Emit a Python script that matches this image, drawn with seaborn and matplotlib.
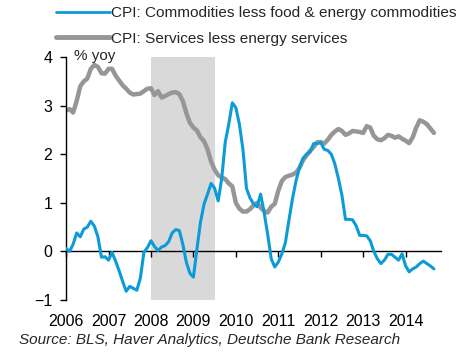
import numpy as np
import pandas as pd
import seaborn as sns
import matplotlib
matplotlib.use("Agg")
import matplotlib.pyplot as plt

# monthly data, Jan 2006 .. Sep 2014 (% yoy)
start_month = "2006-01"
core_goods = [0.06, 0.00, 0.15, 0.38, 0.30, 0.46, 0.50, 0.62, 0.52, 0.30, -0.12, -0.11,
              -0.18, -0.02, -0.20, -0.40, -0.62, -0.82, -0.72, -0.76, -0.80, -0.55, -0.02, 0.08,
              0.22, 0.10, 0.02, 0.09, 0.12, 0.20, 0.38, 0.45, 0.43, 0.15, -0.22, -0.45,
              -0.53, 0.05, 0.60, 0.97, 1.18, 1.40, 1.30, 1.04, 1.50, 2.25, 2.62, 3.06,
              2.96, 2.62, 2.10, 1.30, 1.10, 0.98, 0.92, 1.18, 0.80, 0.35, -0.15, -0.32,
              -0.22, -0.05, 0.18, 0.64, 1.08, 1.45, 1.73, 1.92, 2.00, 2.05, 2.22, 2.22,
              2.24, 2.10, 2.08, 2.00, 1.80, 1.50, 1.15, 0.66, 0.66, 0.65, 0.53, 0.33,
              0.33, 0.32, 0.22, 0.00, -0.15, -0.25, -0.18, -0.06, -0.06, -0.12, -0.18, -0.05,
              -0.30, -0.42, -0.36, -0.32, -0.25, -0.20, -0.25, -0.30, -0.36]
core_services = [2.90, 2.93, 2.86, 3.10, 3.40, 3.50, 3.56, 3.76, 3.84, 3.80, 3.67, 3.66,
                 3.76, 3.76, 3.62, 3.52, 3.42, 3.35, 3.27, 3.23, 3.24, 3.25, 3.30, 3.35,
                 3.36, 3.22, 3.30, 3.17, 3.20, 3.24, 3.27, 3.28, 3.24, 3.10, 2.85, 2.65,
                 2.55, 2.49, 2.35, 2.27, 2.10, 1.85, 1.68, 1.57, 1.52, 1.49, 1.40, 1.34,
                 1.00, 0.88, 0.82, 0.82, 0.87, 0.95, 1.00, 0.90, 0.83, 0.80, 0.92, 0.98,
                 1.25, 1.45, 1.53, 1.56, 1.58, 1.62, 1.72, 1.88, 1.98, 2.07, 2.15, 2.25,
                 2.25, 2.22, 2.30, 2.40, 2.47, 2.52, 2.48, 2.40, 2.43, 2.48, 2.47, 2.46,
                 2.44, 2.58, 2.55, 2.38, 2.31, 2.29, 2.33, 2.40, 2.38, 2.34, 2.37, 2.32,
                 2.28, 2.23, 2.35, 2.55, 2.70, 2.67, 2.62, 2.53, 2.44]
labels = ["CPI: Commodities less food & energy commodities",
          "CPI: Services less energy services"]
year_ticks = list(range(2006, 2015))
recession = (2008.0, 2009.5)

months = pd.period_range(start_month, periods=len(core_goods), freq="M")
t = months.year + (months.month - 1) / 12.0
df = pd.concat([
    pd.DataFrame({"t": t, "v": core_goods, "series": labels[0]}),
    pd.DataFrame({"t": t, "v": core_services, "series": labels[1]}),
])

sns.set_style("ticks")
plt.rcParams["font.family"] = ["Liberation Sans", "DejaVu Sans"]

blue = "#0b9bd9"
grey = "#969696"

fig = plt.figure(figsize=(4.72, 3.55), dpi=100)
ax = fig.add_axes([0.140, 0.155, 0.794, 0.684])

ax.axvspan(*recession, color="#d9d9d9", lw=0, zorder=0)
sns.lineplot(data=df[df.series == labels[1]], x="t", y="v", color=grey, lw=3.2, ax=ax,
             label=labels[1], zorder=2)
sns.lineplot(data=df[df.series == labels[0]], x="t", y="v", color=blue, lw=2.2, ax=ax,
             label=labels[0], zorder=3)

ax.set_xlim(2006, 2014.83)
ax.set_ylim(-1, 4)
ax.set_yticks([-1, 0, 1, 2, 3, 4])
ax.set_xticks(year_ticks)
ax.set_xticklabels([str(y) for y in year_ticks])
ax.set_xlabel("")
ax.set_ylabel("")

for s in ["top", "right"]:
    ax.spines[s].set_visible(False)
ax.spines["bottom"].set_position(("data", 0))
for s in ["left", "bottom"]:
    ax.spines[s].set_color("black")
    ax.spines[s].set_linewidth(1.0)
ax.tick_params(axis="both", direction="out", length=4, width=1, color="black",
               labelsize=11.5, labelcolor="black")
ax.tick_params(axis="x", pad=41)
ax.tick_params(axis="y", pad=6)

ax.text(0.02, 0.975, "% yoy", transform=ax.transAxes, fontsize=11, va="bottom", ha="left")

h, l = ax.get_legend_handles_labels()
leg = fig.legend(h[::-1], l[::-1], loc="upper left", bbox_to_anchor=(0.105, 1.0),
                 frameon=False, fontsize=11.1, handlelength=3.5, handletextpad=0.1,
                 labelspacing=0.75, borderaxespad=0)
leg.get_lines()[0].set_linewidth(2.0)
leg.get_lines()[1].set_linewidth(3.5)
ax.get_legend().remove()

fig.text(0.04, 0.022, "Source: BLS, Haver Analytics, Deutsche Bank Research",
         fontsize=11, style="italic", ha="left", va="bottom")

fig.savefig("out.png", dpi=100)
